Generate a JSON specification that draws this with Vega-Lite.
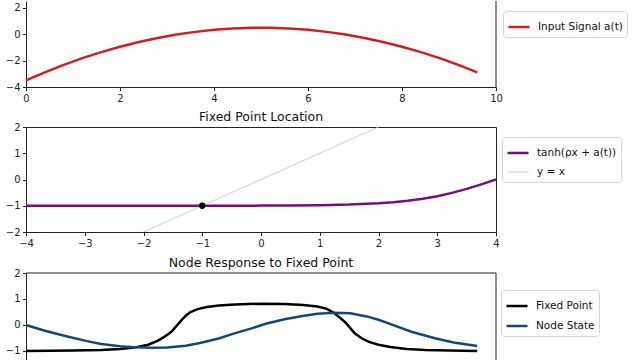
{
  "$schema": "https://vega.github.io/schema/vega-lite/v6.json",
  "padding": 0,
  "background": "white",
  "spacing": 3,
  "resolve": {
    "scale": {"color": "independent", "strokeWidth": "independent", "x": "independent", "y": "independent"},
    "legend": {"color": "independent", "strokeWidth": "independent"},
    "axis": {"x": "independent", "y": "independent"}
  },
  "datasets": {
    "signal": [
      {"t": 0.0, "a": -3.5, "series": "Input Signal a(t)"},
      {"t": 0.4, "a": -2.886, "series": "Input Signal a(t)"},
      {"t": 0.8, "a": -2.322, "series": "Input Signal a(t)"},
      {"t": 1.2, "a": -1.81, "series": "Input Signal a(t)"},
      {"t": 1.6, "a": -1.35, "series": "Input Signal a(t)"},
      {"t": 2.0, "a": -0.94, "series": "Input Signal a(t)"},
      {"t": 2.4, "a": -0.582, "series": "Input Signal a(t)"},
      {"t": 2.8, "a": -0.274, "series": "Input Signal a(t)"},
      {"t": 3.2, "a": -0.018, "series": "Input Signal a(t)"},
      {"t": 3.6, "a": 0.186, "series": "Input Signal a(t)"},
      {"t": 4.0, "a": 0.34, "series": "Input Signal a(t)"},
      {"t": 4.4, "a": 0.442, "series": "Input Signal a(t)"},
      {"t": 4.8, "a": 0.494, "series": "Input Signal a(t)"},
      {"t": 5.2, "a": 0.494, "series": "Input Signal a(t)"},
      {"t": 5.6, "a": 0.442, "series": "Input Signal a(t)"},
      {"t": 6.0, "a": 0.34, "series": "Input Signal a(t)"},
      {"t": 6.4, "a": 0.186, "series": "Input Signal a(t)"},
      {"t": 6.8, "a": -0.018, "series": "Input Signal a(t)"},
      {"t": 7.2, "a": -0.274, "series": "Input Signal a(t)"},
      {"t": 7.6, "a": -0.582, "series": "Input Signal a(t)"},
      {"t": 8.0, "a": -0.94, "series": "Input Signal a(t)"},
      {"t": 8.4, "a": -1.35, "series": "Input Signal a(t)"},
      {"t": 8.8, "a": -1.81, "series": "Input Signal a(t)"},
      {"t": 9.2, "a": -2.322, "series": "Input Signal a(t)"},
      {"t": 9.6, "a": -2.886, "series": "Input Signal a(t)"}
    ],
    "curves": [
      {"x": -4.0, "y": -1.0, "series": "tanh(ρx + a(t))"},
      {"x": -3.5, "y": -1.0, "series": "tanh(ρx + a(t))"},
      {"x": -3.0, "y": -0.9999, "series": "tanh(ρx + a(t))"},
      {"x": -2.5, "y": -0.9999, "series": "tanh(ρx + a(t))"},
      {"x": -2.0, "y": -0.9998, "series": "tanh(ρx + a(t))"},
      {"x": -1.5, "y": -0.9995, "series": "tanh(ρx + a(t))"},
      {"x": -1.0, "y": -0.9989, "series": "tanh(ρx + a(t))"},
      {"x": -0.5, "y": -0.9977, "series": "tanh(ρx + a(t))"},
      {"x": 0.0, "y": -0.9951, "series": "tanh(ρx + a(t))"},
      {"x": 0.5, "y": -0.9896, "series": "tanh(ρx + a(t))"},
      {"x": 1.0, "y": -0.978, "series": "tanh(ρx + a(t))"},
      {"x": 1.5, "y": -0.954, "series": "tanh(ρx + a(t))"},
      {"x": 2.0, "y": -0.9051, "series": "tanh(ρx + a(t))"},
      {"x": 2.25, "y": -0.8648, "series": "tanh(ρx + a(t))"},
      {"x": 2.5, "y": -0.8096, "series": "tanh(ρx + a(t))"},
      {"x": 2.75, "y": -0.7342, "series": "tanh(ρx + a(t))"},
      {"x": 3.0, "y": -0.6351, "series": "tanh(ρx + a(t))"},
      {"x": 3.25, "y": -0.51, "series": "tanh(ρx + a(t))"},
      {"x": 3.5, "y": -0.3584, "series": "tanh(ρx + a(t))"},
      {"x": 3.75, "y": -0.1853, "series": "tanh(ρx + a(t))"},
      {"x": 4.0, "y": 0.0, "series": "tanh(ρx + a(t))"},
      {"x": -4.0, "y": -4.0, "series": "y = x"},
      {"x": 4.0, "y": 4.0, "series": "y = x"}
    ],
    "fp": [
      {"x": -1.0, "y": -1.0}
    ],
    "node": [
      {"t": 0.0, "v": -1.0, "series": "Fixed Point"},
      {"t": 0.5, "v": -0.995, "series": "Fixed Point"},
      {"t": 1.0, "v": -0.985, "series": "Fixed Point"},
      {"t": 1.6, "v": -0.96, "series": "Fixed Point"},
      {"t": 2.0, "v": -0.925, "series": "Fixed Point"},
      {"t": 2.3, "v": -0.87, "series": "Fixed Point"},
      {"t": 2.6, "v": -0.76, "series": "Fixed Point"},
      {"t": 2.8, "v": -0.61, "series": "Fixed Point"},
      {"t": 2.95, "v": -0.45, "series": "Fixed Point"},
      {"t": 3.1, "v": -0.25, "series": "Fixed Point"},
      {"t": 3.2, "v": -0.04, "series": "Fixed Point"},
      {"t": 3.3, "v": 0.17, "series": "Fixed Point"},
      {"t": 3.4, "v": 0.36, "series": "Fixed Point"},
      {"t": 3.5, "v": 0.5, "series": "Fixed Point"},
      {"t": 3.65, "v": 0.61, "series": "Fixed Point"},
      {"t": 3.85, "v": 0.69, "series": "Fixed Point"},
      {"t": 4.1, "v": 0.75, "series": "Fixed Point"},
      {"t": 4.45, "v": 0.79, "series": "Fixed Point"},
      {"t": 5.0, "v": 0.82, "series": "Fixed Point"},
      {"t": 5.5, "v": 0.81, "series": "Fixed Point"},
      {"t": 5.9, "v": 0.77, "series": "Fixed Point"},
      {"t": 6.2, "v": 0.71, "series": "Fixed Point"},
      {"t": 6.4, "v": 0.62, "series": "Fixed Point"},
      {"t": 6.55, "v": 0.47, "series": "Fixed Point"},
      {"t": 6.7, "v": 0.25, "series": "Fixed Point"},
      {"t": 6.8, "v": 0.09, "series": "Fixed Point"},
      {"t": 6.9, "v": -0.12, "series": "Fixed Point"},
      {"t": 7.0, "v": -0.33, "series": "Fixed Point"},
      {"t": 7.15, "v": -0.52, "series": "Fixed Point"},
      {"t": 7.3, "v": -0.65, "series": "Fixed Point"},
      {"t": 7.5, "v": -0.76, "series": "Fixed Point"},
      {"t": 7.75, "v": -0.85, "series": "Fixed Point"},
      {"t": 8.1, "v": -0.92, "series": "Fixed Point"},
      {"t": 8.5, "v": -0.96, "series": "Fixed Point"},
      {"t": 9.0, "v": -0.985, "series": "Fixed Point"},
      {"t": 9.6, "v": -1.0, "series": "Fixed Point"},
      {"t": 0.0, "v": 0.0, "series": "Node State"},
      {"t": 0.4, "v": -0.22, "series": "Node State"},
      {"t": 0.9, "v": -0.45, "series": "Node State"},
      {"t": 1.3, "v": -0.62, "series": "Node State"},
      {"t": 1.6, "v": -0.73, "series": "Node State"},
      {"t": 2.0, "v": -0.82, "series": "Node State"},
      {"t": 2.3, "v": -0.86, "series": "Node State"},
      {"t": 2.7, "v": -0.88, "series": "Node State"},
      {"t": 3.0, "v": -0.87, "series": "Node State"},
      {"t": 3.4, "v": -0.8, "series": "Node State"},
      {"t": 3.7, "v": -0.69, "series": "Node State"},
      {"t": 4.1, "v": -0.52, "series": "Node State"},
      {"t": 4.4, "v": -0.34, "series": "Node State"},
      {"t": 4.8, "v": -0.13, "series": "Node State"},
      {"t": 5.1, "v": 0.05, "series": "Node State"},
      {"t": 5.5, "v": 0.22, "series": "Node State"},
      {"t": 5.85, "v": 0.34, "series": "Node State"},
      {"t": 6.2, "v": 0.43, "series": "Node State"},
      {"t": 6.55, "v": 0.47, "series": "Node State"},
      {"t": 6.9, "v": 0.45, "series": "Node State"},
      {"t": 7.25, "v": 0.33, "series": "Node State"},
      {"t": 7.5, "v": 0.2, "series": "Node State"},
      {"t": 7.7, "v": 0.07, "series": "Node State"},
      {"t": 8.2, "v": -0.26, "series": "Node State"},
      {"t": 8.7, "v": -0.51, "series": "Node State"},
      {"t": 9.1, "v": -0.67, "series": "Node State"},
      {"t": 9.6, "v": -0.81, "series": "Node State"}
    ]
  },
  "config": {
    "view": {"stroke": null},
    "font": "DejaVu Sans",
    "axis": {
      "grid": false,
      "domainColor": "#222",
      "domainWidth": 1,
      "tickColor": "#222",
      "tickWidth": 1,
      "tickSize": 3.5,
      "labelColor": "#222",
      "labelFont": "DejaVu Sans",
      "labelFontSize": 10,
      "labelPadding": 2.5,
      "labelFlush": false,
      "labelOverlap": false,
      "format": "d",
      "title": null
    },
    "axisY": {"minExtent": 25, "maxExtent": 25},
    "axisX": {"minExtent": 20, "maxExtent": 20},
    "legend": {
      "orient": "none",
      "title": null,
      "symbolType": "stroke",
      "symbolSize": 441,
      "symbolStrokeWidth": 2.5,
      "labelFont": "DejaVu Sans",
      "labelFontSize": 10.5,
      "labelColor": "#111",
      "labelOffset": 7,
      "strokeColor": "#d5d5d5",
      "fillColor": "white",
      "padding": 4,
      "cornerRadius": 3,
      "rowPadding": 2
    },
    "title": {
      "font": "DejaVu Sans",
      "fontSize": 12.5,
      "fontWeight": "normal",
      "color": "#111",
      "offset": -1,
      "frame": "group",
      "anchor": "middle"
    }
  },
  "vconcat": [
    {
      "width": 470,
      "height": 86,
      "encoding": {
        "x": {"type": "quantitative", "scale": {"domain": [0, 10], "nice": false, "zero": false}, "axis": {"values": [0, 2, 4, 6, 8, 10]}},
        "y": {"type": "quantitative", "scale": {"domain": [-4, 2.53], "nice": false, "zero": false}, "axis": {"values": [-4, -2, 0, 2]}}
      },
      "layer": [
        {
          "data": {"name": "signal"},
          "mark": {"type": "line", "strokeWidth": 2.5},
          "encoding": {
            "x": {"field": "t", "type": "quantitative"},
            "y": {"field": "a", "type": "quantitative"},
            "color": {"field": "series", "type": "nominal", "scale": {"domain": ["Input Signal a(t)"], "range": ["#d01f1f"]}, "legend": {"legendX": 477, "legendY": 10}}
          }
        },
        {
          "data": {"values": [{"t": 10}]},
          "mark": {"type": "rule", "color": "#222", "strokeWidth": 1},
          "encoding": {"x": {"field": "t", "type": "quantitative"}}
        }
      ]
    },
    {
      "title": "Fixed Point Location",
      "width": 470,
      "height": 105,
      "view": {"stroke": "#222", "strokeWidth": 1},
      "encoding": {
        "x": {"field": "x", "type": "quantitative", "scale": {"domain": [-4, 4], "nice": false, "zero": false}, "axis": {"values": [-4, -3, -2, -1, 0, 1, 2, 3, 4], "domain": false}},
        "y": {"field": "y", "type": "quantitative", "scale": {"domain": [-2, 2], "nice": false, "zero": false}, "axis": {"values": [-2, -1, 0, 1, 2], "domain": false}}
      },
      "layer": [
        {
          "data": {"name": "curves"},
          "mark": {"type": "line", "clip": true},
          "encoding": {
            "color": {"field": "series", "type": "nominal", "scale": {"domain": ["tanh(ρx + a(t))", "y = x"], "range": ["#751078", "#c4c4c4"]}, "legend": {"legendX": 476, "legendY": 10}},
            "strokeWidth": {"field": "series", "type": "ordinal", "scale": {"domain": ["tanh(ρx + a(t))", "y = x"], "range": [2.5, 0.8]}, "legend": {"legendX": 476, "legendY": 10}}
          }
        },
        {
          "data": {"name": "fp"},
          "mark": {"type": "point", "filled": true, "color": "black", "size": 40, "opacity": 1},
          "encoding": {}
        }
      ]
    },
    {
      "title": "Node Response to Fixed Point",
      "width": 470,
      "height": 88,
      "encoding": {
        "x": {"type": "quantitative", "scale": {"domain": [0, 10], "nice": false, "zero": false}, "axis": null},
        "y": {"type": "quantitative", "scale": {"domain": [-1.385, 2], "nice": false, "zero": false}, "axis": {"values": [-1, 0, 1, 2]}}
      },
      "layer": [
        {
          "data": {"name": "node"},
          "mark": {"type": "line", "strokeWidth": 2.5},
          "encoding": {
            "x": {"field": "t", "type": "quantitative"},
            "y": {"field": "v", "type": "quantitative"},
            "color": {"field": "series", "type": "nominal", "scale": {"domain": ["Fixed Point", "Node State"], "range": ["#000000", "#15487a"]}, "legend": {"legendX": 475, "legendY": 17}}
          }
        },
        {
          "data": {"values": [{"t": 10}]},
          "mark": {"type": "rule", "color": "#222", "strokeWidth": 1},
          "encoding": {"x": {"field": "t", "type": "quantitative"}}
        },
        {
          "data": {"values": [{"v": 2}]},
          "mark": {"type": "rule", "color": "#222", "strokeWidth": 1},
          "encoding": {"y": {"field": "v", "type": "quantitative"}}
        }
      ]
    }
  ]
}
